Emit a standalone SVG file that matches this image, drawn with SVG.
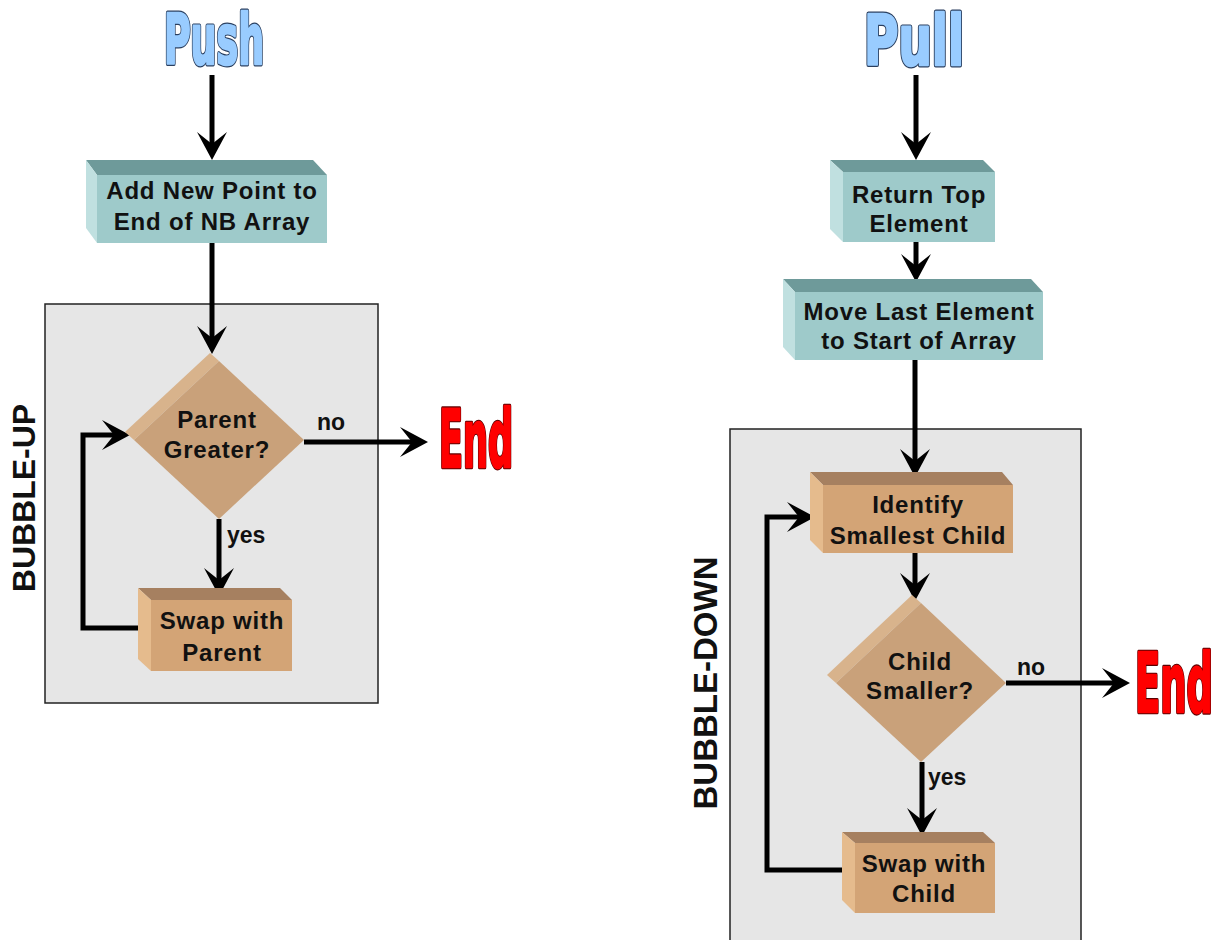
<svg xmlns="http://www.w3.org/2000/svg" xmlns:xlink="http://www.w3.org/1999/xlink" width="1225" height="940" viewBox="0 0 1225 940">
  <style>
    .display { font-family: "DejaVu Sans", "Liberation Sans", sans-serif; font-weight: bold; font-stretch: condensed; }
    .title-outline { fill: #2a3f5f; stroke: #2a3f5f; stroke-width: 5; stroke-linejoin: round; }
    .title-fill { fill: #99ccff; stroke: #99ccff; stroke-width: 2.6; stroke-linejoin: round; }
    .end-outline { fill: #5a0000; stroke: #5a0000; stroke-width: 4.5; stroke-linejoin: round; }
    .end-fill { fill: #ff0000; stroke: #ff0000; stroke-width: 2.4; stroke-linejoin: round; }
    .lbl { font-family: "Liberation Sans", Arial, sans-serif; font-weight: bold; font-size: 24px; letter-spacing: 0.8px; fill: #111; text-anchor: middle; }
    .edge { font-family: "Liberation Sans", Arial, sans-serif; font-weight: bold; font-size: 23px; fill: #111; }
    .side { font-family: "Liberation Sans", Arial, sans-serif; font-weight: bold; fill: #111; text-anchor: middle; }
    .region { fill: #e6e6e6; stroke: #222; stroke-width: 1.5; }
    .tf { fill: #9ecaca; }
    .tt { fill: #6e9a9a; }
    .tl { fill: #c0e0e0; }
    .bf { fill: #d3a476; }
    .bt { fill: #a68060; }
    .bl { fill: #e5bb8d; }
    .df { fill: #c9a17a; }
    .ds { fill: #d8b38c; }
    .conn { fill: none; stroke: #000; stroke-width: 5; stroke-linejoin: miter; marker-end: url(#head); }
  </style>
  <defs>
    <marker id="head" markerUnits="userSpaceOnUse" markerWidth="30" markerHeight="32" refX="12" refY="16" orient="auto">
      <path d="M0,1 L28,16 L0,31 L12,16 Z" fill="#000"/>
    </marker>
    <!-- heavy display words, drawn twice: dark outline layer, then colour layer -->
    <text id="push-word" class="display" x="164" y="64" font-size="70" textLength="100" lengthAdjust="spacingAndGlyphs">Push</text>
    <text id="pull-word" class="display" x="864" y="65" font-size="70" textLength="100" lengthAdjust="spacingAndGlyphs">Pull</text>
    <text id="end-word-1" class="display" x="439" y="467" font-size="80" textLength="74" lengthAdjust="spacingAndGlyphs">End</text>
    <text id="end-word-2" class="display" x="1135" y="712" font-size="82" textLength="78" lengthAdjust="spacingAndGlyphs">End</text>
  </defs>

  <rect width="1225" height="940" fill="#fff"/>

  <!-- shaded loop regions -->
  <rect id="region-bubble-up" class="region" x="45" y="304" width="333" height="399"/>
  <rect id="region-bubble-down" class="region" x="730" y="429" width="351" height="520"/>

  <!-- region captions -->
  <text class="side" font-size="32" transform="translate(35,498) rotate(-90)">BUBBLE-UP</text>
  <text class="side" font-size="33" transform="translate(717,683) rotate(-90)">BUBBLE-DOWN</text>

  <!-- titles -->
  <g id="push">
    <use xlink:href="#push-word" class="title-outline"/>
    <use xlink:href="#push-word" class="title-fill"/>
  </g>
  <g id="pull">
    <use xlink:href="#pull-word" class="title-outline"/>
    <use xlink:href="#pull-word" class="title-fill"/>
  </g>

  <!-- connectors -->
  <g id="connectors">
    <path class="conn" d="M212,75 V144"/>
    <path class="conn" d="M212,243 V338"/>
    <path class="conn" d="M304,442 H412"/>
    <path class="conn" d="M219,519 V580"/>
    <path class="conn" d="M151,628 H83 V435 H114"/>

    <path class="conn" d="M916,75 V144"/>
    <path class="conn" d="M916,242 V266"/>
    <path class="conn" d="M915,360 V461"/>
    <path class="conn" d="M915,553 V585"/>
    <path class="conn" d="M1006,683 H1114"/>
    <path class="conn" d="M922,762 V820"/>
    <path class="conn" d="M855,870 H767 V517 H799"/>
  </g>

  <!-- Push flow -->
  <g id="add-new-point">
    <polygon class="tt" points="86,160 313,160 327,175 97,175"/>
    <polygon class="tl" points="86,160 97,175 97,243 86,228"/>
    <rect class="tf" x="97" y="175" width="230" height="68"/>
    <text class="lbl" x="212" y="199">Add New Point to</text>
    <text class="lbl" x="212" y="230">End of NB Array</text>
  </g>

  <g id="parent-greater">
    <polygon class="ds" points="210,353 219,361 134,440 125,432"/>
    <polygon class="df" points="219,361 304,440 219,519 134,440"/>
    <text class="lbl" x="217" y="428">Parent</text>
    <text class="lbl" x="217" y="458">Greater?</text>
  </g>

  <g id="swap-parent">
    <polygon class="bt" points="138,588 280,588 292,600 151,600"/>
    <polygon class="bl" points="138,588 151,600 151,671 138,659"/>
    <rect class="bf" x="151" y="600" width="141" height="71"/>
    <text class="lbl" x="222" y="629">Swap with</text>
    <text class="lbl" x="222" y="661">Parent</text>
  </g>

  <text class="edge" x="317" y="430">no</text>
  <text class="edge" x="227" y="543">yes</text>

  <g id="end-push">
    <use xlink:href="#end-word-1" class="end-outline"/>
    <use xlink:href="#end-word-1" class="end-fill"/>
  </g>

  <!-- Pull flow -->
  <g id="return-top">
    <polygon class="tt" points="830,160 983,160 995,172 843,172"/>
    <polygon class="tl" points="830,160 843,172 843,242 830,229"/>
    <rect class="tf" x="843" y="172" width="152" height="70"/>
    <text class="lbl" x="919" y="203">Return Top</text>
    <text class="lbl" x="919" y="232">Element</text>
  </g>

  <g id="move-last">
    <polygon class="tt" points="783,279 1031,279 1043,292 795,292"/>
    <polygon class="tl" points="783,279 795,292 795,360 783,347"/>
    <rect class="tf" x="795" y="292" width="248" height="68"/>
    <text class="lbl" x="919" y="320">Move Last Element</text>
    <text class="lbl" x="919" y="349">to Start of Array</text>
  </g>

  <g id="identify-smallest">
    <polygon class="bt" points="810,472 1002,472 1013,485 823,485"/>
    <polygon class="bl" points="810,472 823,485 823,553 810,540"/>
    <rect class="bf" x="823" y="485" width="190" height="68"/>
    <text class="lbl" x="918" y="513">Identify</text>
    <text class="lbl" x="918" y="544">Smallest Child</text>
  </g>

  <g id="child-smaller">
    <polygon class="ds" points="912,595 921,603 836,683 827,675"/>
    <polygon class="df" points="921,603 1006,683 921,762 836,683"/>
    <text class="lbl" x="920" y="670">Child</text>
    <text class="lbl" x="920" y="699">Smaller?</text>
  </g>

  <g id="swap-child">
    <polygon class="bt" points="842,832 983,832 995,843 855,843"/>
    <polygon class="bl" points="842,832 855,843 855,913 842,900"/>
    <rect class="bf" x="855" y="843" width="140" height="70"/>
    <text class="lbl" x="924" y="872">Swap with</text>
    <text class="lbl" x="924" y="902">Child</text>
  </g>

  <text class="edge" x="1017" y="675">no</text>
  <text class="edge" x="928" y="785">yes</text>

  <g id="end-pull">
    <use xlink:href="#end-word-2" class="end-outline"/>
    <use xlink:href="#end-word-2" class="end-fill"/>
  </g>
</svg>
